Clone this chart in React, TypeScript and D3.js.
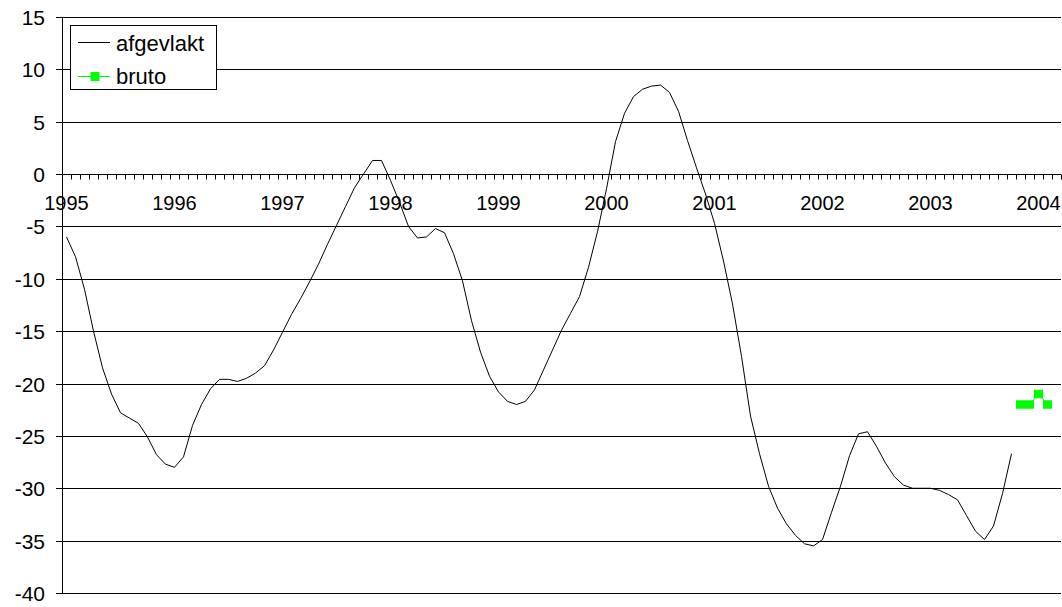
import React from "react";
import * as d3 from "d3";

const years = ["1995", "1996", "1997", "1998", "1999", "2000", "2001", "2002", "2003", "2004"];
const monthCount = 111; // Jan 1995 .. Mar 2004
const categories: string[] = d3.range(monthCount).map(
  (i) => `${1995 + Math.floor(i / 12)}-${String((i % 12) + 1).padStart(2, "0")}`
);

const afgevlakt = [
  -6.0, -7.9, -11.0, -15.0, -18.5, -21.0, -22.8, -23.3, -23.8, -25.1, -26.8, -27.7,
  -28.0, -27.0, -24.0, -22.0, -20.5, -19.6, -19.6, -19.8, -19.5, -19.0, -18.3, -16.8,
  -15.1, -13.4, -11.9, -10.3, -8.6, -6.7, -4.9, -3.1, -1.3, 0.0, 1.3, 1.3,
  -0.6, -2.7, -5.0, -6.1, -6.0, -5.2, -5.6, -7.6, -10.2, -14.0, -17.0, -19.3,
  -20.8, -21.7, -22.0, -21.7, -20.6, -18.7, -16.8, -14.9, -13.3, -11.7, -8.9, -5.5,
  -1.4, 3.1, 5.8, 7.4, 8.1, 8.4, 8.5, 7.8, 6.0, 3.2, 0.6, -1.9,
  -4.7, -8.3, -12.4, -17.4, -23.1, -26.7, -29.8, -31.9, -33.4, -34.5, -35.3, -35.5,
  -34.9, -32.3, -29.8, -26.9, -24.8, -24.6, -26.0, -27.6, -28.9, -29.7, -30.0, -30.0,
  -30.0, -30.2, -30.6, -31.1, -32.6, -34.1, -34.9, -33.6, -30.5, -26.7,
];

const brutoMonths = ["2003-11", "2003-12", "2004-01", "2004-02"];
const brutoValues = [-22, -22, -21, -22];

const yTicks = [15, 10, 5, 0, -5, -10, -15, -20, -25, -30, -35, -40];

const W = 1062;
const H = 607;
const left = 62;
const right = 1061;
const top = 17;
const bottom = 593;
const FONT = "'Liberation Sans', Arial, sans-serif";

export default function App() {
  const x = d3.scaleBand<string>().domain(categories).range([left, right]).padding(0);
  const bw = x.bandwidth();
  const cx = (c: string) => (x(c) as number) + bw / 2;
  const y = d3.scaleLinear().domain([-40, 15]).range([bottom, top]);

  const smoothData = afgevlakt.map((v, i) => ({ c: categories[i], v }));
  const brutoData = brutoValues.map((v, i) => ({ c: brutoMonths[i], v }));

  const line = d3
    .line<{ c: string; v: number }>()
    .x((d) => cx(d.c))
    .y((d) => y(d.v));

  const y0 = Math.round(y(0)) + 0.5;
  const boundaries = d3.range(monthCount + 1).map((k) => left + k * bw);

  return (
    <svg
      width={W}
      height={H}
      style={{ position: "absolute", left: 0, top: 0, display: "block", background: "#fff" }}
    >
      <rect x={0} y={0} width={W} height={H} fill="#fff" />
      {yTicks
        .filter((t) => t !== 0)
        .map((t) => {
          const yy = Math.round(y(t)) + 0.5;
          return <line key={t} x1={left} x2={right} y1={yy} y2={yy} stroke="#000" strokeWidth={1} />;
        })}
      <line x1={left + 0.5} x2={left + 0.5} y1={Math.round(y(15))} y2={Math.round(y(-40)) + 1} stroke="#000" />
      {yTicks.map((t) => {
        const yy = Math.round(y(t)) + 0.5;
        return (
          <g key={"yt" + t}>
            <line x1={left - 6} x2={left} y1={yy} y2={yy} stroke="#000" />
            <text x={45} y={yy + 7.5} textAnchor="end" fontFamily={FONT} fontSize={21} fill="#000">
              {t}
            </text>
          </g>
        );
      })}
      <line x1={left} x2={right} y1={y0} y2={y0} stroke="#000" />
      {boundaries.map((bx, k) => (
        <line key={"xt" + k} x1={Math.round(bx) + 0.5} x2={Math.round(bx) + 0.5} y1={y0} y2={y0 + 5} stroke="#000" />
      ))}
      {years.map((yr) => (
        <text key={yr} x={cx(`${yr}-01`)} y={210} textAnchor="middle" fontFamily={FONT} fontSize={20} fill="#000">
          {yr}
        </text>
      ))}
      <path d={line(smoothData) || ""} fill="none" stroke="#000" strokeWidth={1} />
      <path d={line(brutoData) || ""} fill="none" stroke="#00ff00" strokeWidth={1} />
      {brutoData.map((d, i) => (
        <rect key={"b" + i} x={cx(d.c) - 4.5} y={y(d.v) - 4.25} width={9} height={8.5} fill="#00ff00" />
      ))}
      <rect x={70.5} y={25.5} width={146} height={64} fill="#fff" stroke="#000" />
      <line x1={78} x2={110} y1={42.5} y2={42.5} stroke="#000" />
      <text x={116} y={51} fontFamily={FONT} fontSize={22} fill="#000">
        afgevlakt
      </text>
      <line x1={78} x2={110} y1={76.5} y2={76.5} stroke="#00ff00" />
      <rect x={90.5} y={72} width={9} height={9} fill="#00ff00" />
      <text x={116} y={84} fontFamily={FONT} fontSize={22} fill="#000">
        bruto
      </text>
    </svg>
  );
}
